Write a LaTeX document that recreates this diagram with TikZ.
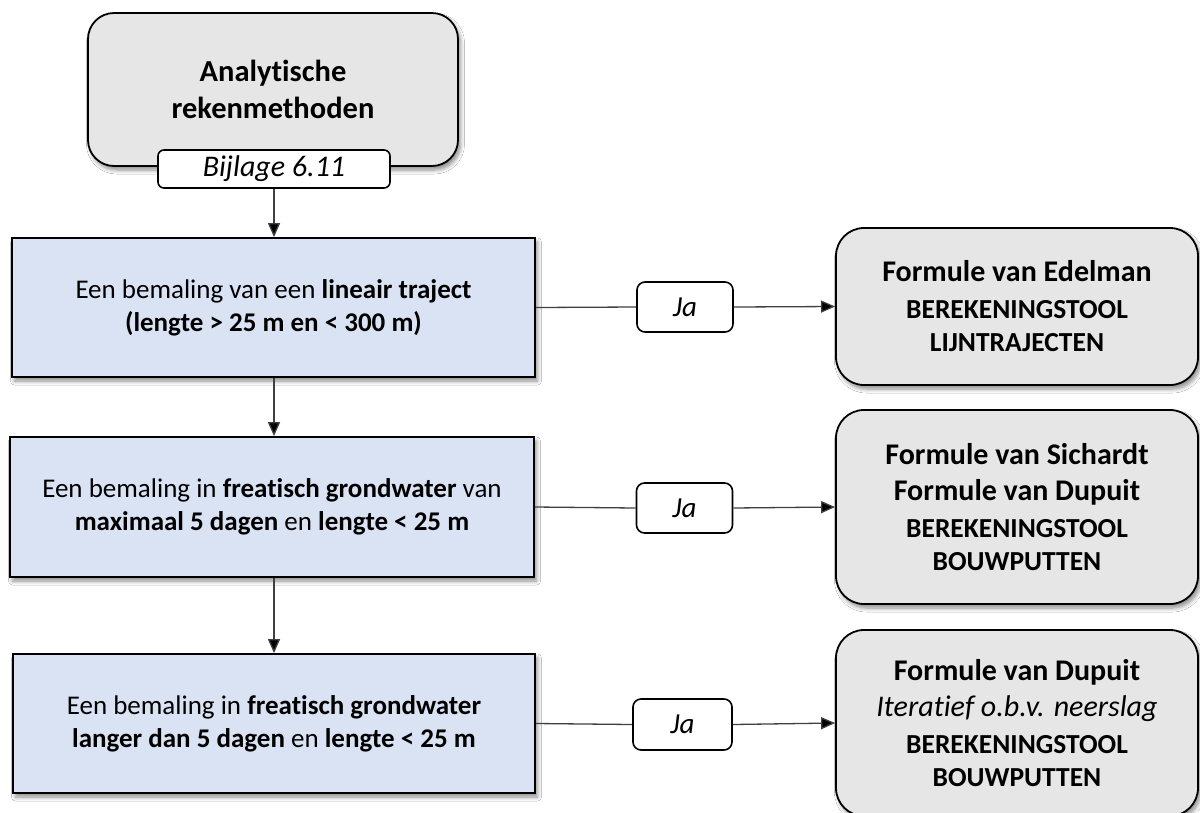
\documentclass[tikz,border=0pt]{standalone}
\usepackage{fontspec}
\setmainfont{Carlito}[Ligatures=NoCommon]
\usetikzlibrary{arrows.meta,shadows.blur}
\definecolor{boxgray}{HTML}{E6E6E6}
\definecolor{boxblue}{HTML}{DAE3F3}
\definecolor{linegray}{HTML}{404040}
\tikzset{
  shad/.style={blur shadow={shadow xshift=2.5pt, shadow yshift=-4pt, shadow blur steps=6, shadow blur radius=4pt, shadow opacity=45}},
  startbox/.style={draw=black, line width=1.8pt, fill=boxgray, rounded corners=26pt, shad, align=center, inner sep=0pt},
  refbox/.style={draw=black, line width=1.6pt, fill=white, rounded corners=6pt, inner sep=0pt},
  condbox/.style={draw=black, line width=1.8pt, fill=boxblue, shad, align=center, inner sep=0pt},
  jabox/.style={draw=black, line width=1.6pt, fill=white, rounded corners=8pt, inner sep=0pt, font=\fontsize{29}{33}\selectfont\itshape},
  resbox/.style={draw=black, line width=1.8pt, fill=boxgray, rounded corners=28pt, shad, align=center, inner sep=0pt, minimum width=362pt, font=\fontsize{27.5}{33}\selectfont},
  conn/.style={draw=linegray, line width=1.3pt},
  arr/.style={conn, -{Triangle[length=14pt, width=12pt, fill=black]}},
  big/.style={font=\fontsize{30.5}{37}\selectfont\bfseries},
  txt/.style={font=\fontsize{27}{33}\selectfont},
}
\newcommand{\capsfont}{\fontsize{27.5}{33}\selectfont\upshape\bfseries}
\newcommand{\titfont}{\fontsize{30}{37}\selectfont\bfseries}
\newcommand{\itfont}{\fontsize{30}{37}\selectfont\mdseries\itshape}
\begin{document}
\begin{tikzpicture}[x=1pt, y=-1pt]
\useasboundingbox (0,0) rectangle (1200,812);
\fill[white] (0,0) rectangle (1200,812);

\node[startbox, minimum width=370pt, minimum height=153pt, big] (top) at (273,89.5)
  {Analytische\\rekenmethoden};
\node[refbox, minimum width=232pt, minimum height=38pt, font=\fontsize{30}{33}\selectfont\itshape] (bij) at (274,169) {Bijlage 6.11};

\node[condbox, minimum width=523pt, minimum height=139pt, txt] (c1) at (273.5,307.5)
  {Een bemaling van een \textbf{lineair traject}\\\textbf{(lengte > 25 m en < 300 m)}};
\node[condbox, minimum width=524pt, minimum height=140pt, txt] (c2) at (272,507)
  {Een bemaling in \textbf{freatisch grondwater} van\\\textbf{maximaal 5 dagen} en \textbf{lengte < 25 m}};
\node[condbox, minimum width=522pt, minimum height=139pt, txt] (c3) at (274,723.5)
  {Een bemaling in \textbf{freatisch grondwater}\\\textbf{langer dan 5 dagen} en \textbf{lengte < 25 m}};

\node[jabox, minimum width=96pt, minimum height=50pt] (j1) at (685,307) {Ja};
\node[jabox, minimum width=96pt, minimum height=50pt] (j2) at (684.5,508) {Ja};
\node[jabox, minimum width=99pt, minimum height=51pt] (j3) at (682.5,724.5) {Ja};

\node[resbox, minimum height=157pt] (r1) at (1017,306.5)
  {\titfont Formule van Edelman\\[4pt]
   \capsfont BEREKENINGSTOOL\\
   \capsfont LIJNTRAJECTEN};
\node[resbox, minimum height=194pt] (r2) at (1017,507)
  {\titfont Formule van Sichardt\\[3pt]
   \titfont Formule van Dupuit\\[4pt]
   \capsfont BEREKENINGSTOOL\\
   \capsfont BOUWPUTTEN};
\node[resbox, minimum height=186pt] (r3) at (1017,723)
  {\titfont Formule van Dupuit\\[3pt]
   \itfont Iteratief o.b.v. neerslag\\[4pt]
   \capsfont BEREKENINGSTOOL\\
   \capsfont BOUWPUTTEN};

\draw[arr] (bij.south) -- (bij.south |- c1.north);
\draw[arr] (c1.south -| bij.south) -- (c2.north -| bij.south);
\draw[arr] (c2.south -| bij.south) -- (c3.north -| bij.south);

\draw[conn] (c1.east) -- (j1.west);
\draw[arr] (j1.east) -- (r1.west);
\draw[conn] (c2.east) -- (j2.west);
\draw[arr] (j2.east) -- (r2.west);
\draw[conn] (c3.east) -- (j3.west);
\draw[arr] (j3.east) -- (r3.west);
\end{tikzpicture}
\end{document}
